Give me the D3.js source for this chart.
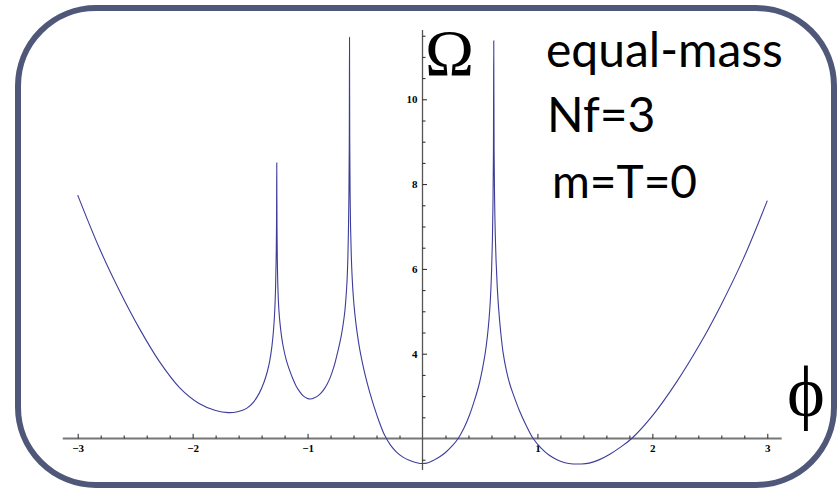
<!DOCTYPE html>
<html>
<head>
<meta charset="utf-8">
<script src="https://cdn.jsdelivr.net/npm/d3@7"></script>
<style>
  body { margin: 0; background: #fff; }
  svg { display: block; }
</style>
</head>
<body>
<svg width="840" height="491"></svg>
<script>
// Omega(phi)
const phiValues = [
  -3.00, -2.81, -2.63, -2.46, -2.29, -2.11, -1.94, -1.80, -1.69, -1.61,
  -1.53, -1.47, -1.42, -1.38, -1.35, -1.33, -1.31, -1.295, -1.285, -1.278,
  -1.273, -1.270, -1.268, -1.266, -1.263, -1.258, -1.250, -1.240, -1.225, -1.21,
  -1.185, -1.155, -1.13, -1.10, -1.07, -1.04, -1.005, -0.975, -0.94, -0.90,
  -0.865, -0.83, -0.80, -0.77, -0.745, -0.72, -0.705, -0.69, -0.675, -0.665,
  -0.656, -0.649, -0.644, -0.640, -0.637, -0.635, -0.633, -0.630, -0.626, -0.620,
  -0.612, -0.602, -0.589, -0.570, -0.546, -0.52, -0.49, -0.459, -0.42, -0.38,
  -0.33, -0.28, -0.226, -0.17, -0.11, -0.05, 0.00, 0.05, 0.10, 0.15,
  0.20, 0.26, 0.31, 0.36, 0.41, 0.45, 0.49, 0.52, 0.545, 0.565,
  0.58, 0.592, 0.601, 0.608, 0.613, 0.617, 0.620, 0.623, 0.627, 0.632,
  0.640, 0.650, 0.662, 0.68, 0.70, 0.73, 0.76, 0.79, 0.84, 0.90,
  0.963, 1.03, 1.10, 1.17, 1.24, 1.31, 1.38, 1.45, 1.53, 1.63,
  1.72, 1.82, 2.01, 2.21, 2.41, 2.59, 2.79, 3.00
];
const omegaValues = [
  7.74, 6.48, 5.45, 4.58, 3.82, 3.19, 2.82, 2.66, 2.61, 2.63,
  2.71, 2.86, 3.07, 3.32, 3.58, 3.82, 4.18, 4.60, 5.05, 5.60,
  6.30, 7.10, 8.50, 7.00, 6.20, 5.55, 5.05, 4.72, 4.38, 4.14,
  3.85, 3.60, 3.42, 3.24, 3.11, 3.01, 2.95, 2.93, 2.96, 3.03,
  3.13, 3.28, 3.46, 3.70, 3.96, 4.25, 4.45, 4.70, 5.02, 5.35,
  5.75, 6.30, 6.95, 7.80, 9.00, 11.46, 9.00, 7.80, 7.00, 6.35,
  5.80, 5.35, 4.95, 4.52, 4.10, 3.75, 3.40, 3.09, 2.74, 2.42,
  2.08, 1.85, 1.68, 1.56, 1.48, 1.43, 1.41, 1.43, 1.49, 1.57,
  1.67, 1.83, 2.00, 2.24, 2.56, 2.88, 3.25, 3.62, 4.00, 4.42,
  4.85, 5.35, 5.95, 6.65, 7.50, 8.70, 11.38, 8.80, 7.70, 6.95,
  6.20, 5.60, 5.08, 4.52, 4.05, 3.60, 3.28, 3.04, 2.68, 2.32,
  2.00, 1.78, 1.61, 1.50, 1.43, 1.40, 1.40, 1.42, 1.49, 1.63,
  1.79, 2.00, 2.57, 3.33, 4.21, 5.11, 6.23, 7.61
];
const xMajorTicks = [-3, -2, -1, 1, 2, 3];
const xMinorTicks = [-2.8, -2.6, -2.4, -2.2, -1.8, -1.6, -1.4, -1.2, -0.8, -0.6, -0.4, -0.2,
  0.2, 0.4, 0.6, 0.8, 1.2, 1.4, 1.6, 1.8, 2.2, 2.4, 2.6, 2.8];
const yMajorTicks = [4, 6, 8, 10];
const yMinorTicks = [1.5, 2.5, 3, 3.5, 4.5, 5, 5.5, 6.5, 7, 7.5, 8.5, 9, 9.5, 10.5, 11, 11.5];
const labelLines = ['equal-mass', 'Nf=3', 'm=T=0'];

const svg = d3.select('svg');

const x = d3.scaleLinear().domain([-3, 3]).range([77.7, 767.3]);
const y = d3.scaleLinear().domain([2, 10]).range([438.5, 99.3]);

// frame
svg.append('rect')
  .attr('x', 18).attr('y', 8)
  .attr('width', 816).attr('height', 477)
  .attr('rx', 78).attr('ry', 78)
  .attr('fill', 'none')
  .attr('stroke', '#4f5878')
  .attr('stroke-width', 6);

const tickFont = g => g.selectAll('text')
  .attr('font-family', '"Liberation Serif", "Times New Roman", serif')
  .attr('font-weight', 'bold')
  .attr('font-size', 11)
  .attr('fill', '#000');

// x axis
const xAxisG = svg.append('g').attr('transform', `translate(0,${y(2)})`);
xAxisG.append('line')
  .attr('x1', x(-3.13)).attr('x2', x(3.125))
  .attr('stroke', '#777').attr('stroke-width', 1.8);
xAxisG.append('g')
  .call(d3.axisBottom(x).tickValues(xMinorTicks).tickSize(-3).tickFormat(''))
  .call(g => g.select('.domain').remove());
xAxisG.append('g')
  .call(d3.axisBottom(x).tickValues(xMajorTicks).tickSize(-4.7).tickPadding(6).tickFormat(d3.format('d')))
  .call(g => g.select('.domain').remove())
  .call(tickFont);

// y axis
const yAxisG = svg.append('g').attr('transform', `translate(${x(0)},0)`);
yAxisG.append('line')
  .attr('y1', 30).attr('y2', 470)
  .attr('stroke', '#555').attr('stroke-width', 1.3);
yAxisG.append('g')
  .call(d3.axisLeft(y).tickValues(yMinorTicks).tickSize(-3).tickFormat(''))
  .call(g => g.select('.domain').remove());
yAxisG.append('g')
  .call(d3.axisLeft(y).tickValues(yMajorTicks).tickSize(-4.5).tickPadding(5).tickFormat(d3.format('d')))
  .call(g => g.select('.domain').remove())
  .call(tickFont);

svg.selectAll('.tick line').attr('stroke', '#222').attr('stroke-width', 1);

// curve
const points = phiValues.map((p, i) => [p, omegaValues[i]]);
const line = d3.line()
  .x(d => x(d[0]))
  .y(d => y(d[1]))
  .curve(d3.curveCatmullRom.alpha(0.5));

svg.append('path')
  .datum(points)
  .attr('d', line)
  .attr('fill', 'none')
  .attr('stroke', '#3d3d99')
  .attr('stroke-width', 1.1);

// axis symbols
svg.append('text')
  .attr('x', 425).attr('y', 75)
  .attr('font-family', '"Liberation Serif", "Times New Roman", serif')
  .attr('font-size', 66)
  .text('Ω');

svg.append('text')
  .attr('x', 806).attr('y', 416)
  .attr('text-anchor', 'middle')
  .attr('font-family', '"Liberation Serif", "Times New Roman", serif')
  .attr('font-size', 72)
  .text('ϕ');

// annotation
const annot = [
  { x: 546, y: 67, size: 48 },
  { x: 547, y: 132, size: 48 },
  { x: 552, y: 198, size: 46 }
];
svg.selectAll('.annot')
  .data(labelLines)
  .join('text')
  .attr('class', 'annot')
  .attr('x', (d, i) => annot[i].x)
  .attr('y', (d, i) => annot[i].y)
  .attr('font-family', 'Lato, "Open Sans", sans-serif')
  .attr('font-size', (d, i) => annot[i].size)
  .attr('fill', '#000')
  .text(d => d);
</script>
</body>
</html>
